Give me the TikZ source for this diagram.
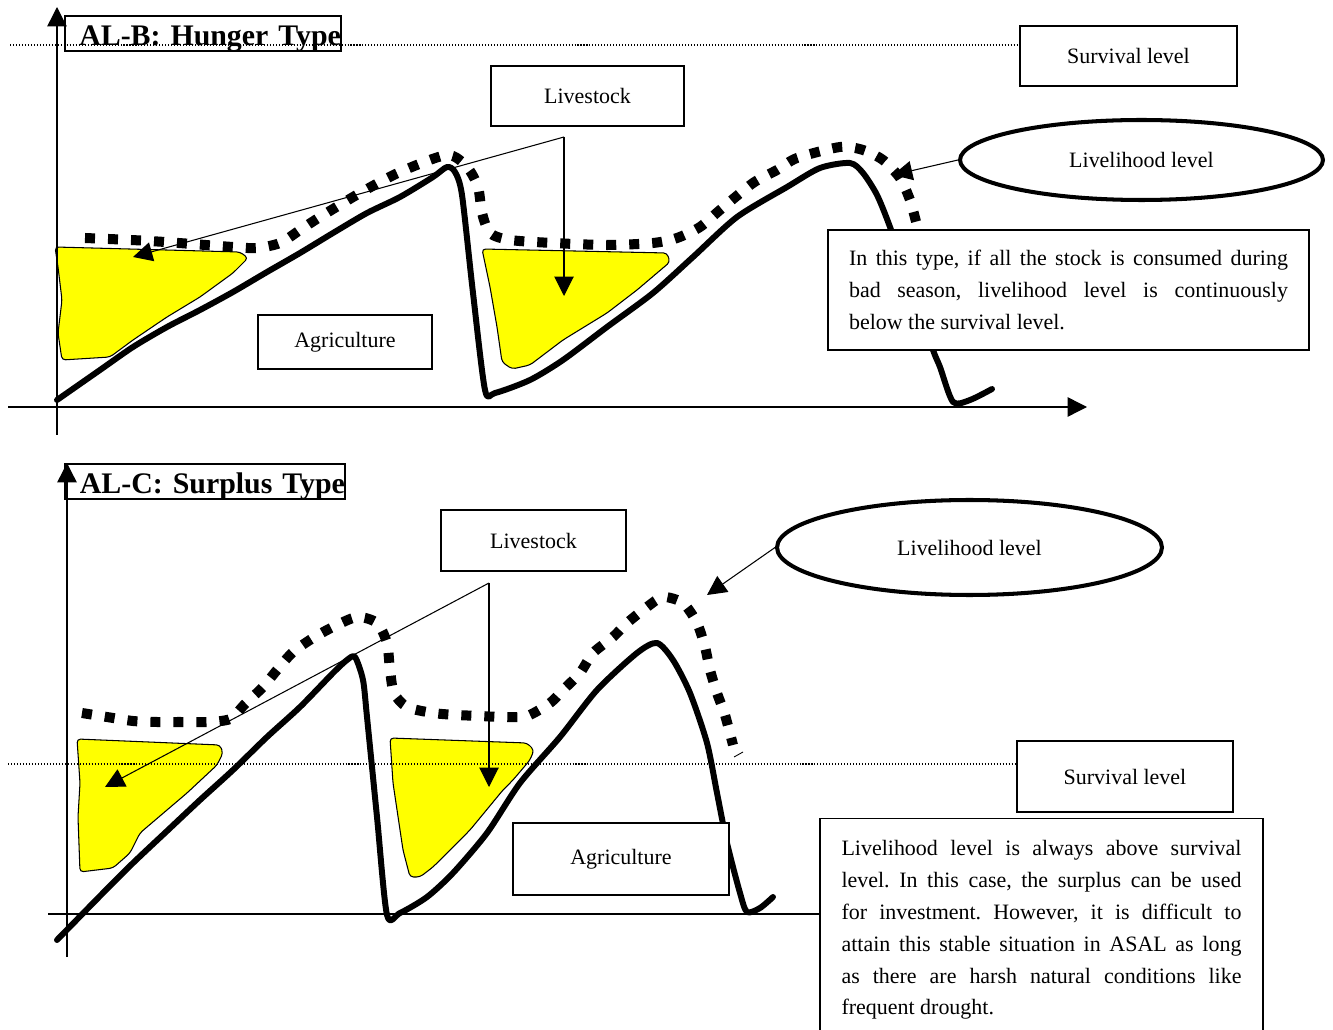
\documentclass[tikz,border=0pt]{standalone}
\usepackage{fontspec}
\setmainfont{Liberation Serif}
\usepackage{tikz}
\usetikzlibrary{arrows.meta,shapes.geometric}
\definecolor{cropfill}{RGB}{255,255,0}
\frenchspacing

\begin{document}
\begin{tikzpicture}[
  x=0.02cm, y=-0.02cm,
  font=\fontsize{12.5}{18.1}\selectfont,
  axis/.style={-{Triangle[length=11pt,width=11pt]}, line width=0.8pt},
  conn/.style={-{Triangle[length=11pt,width=11pt]}, line width=0.6pt},
  surv/.style={line width=0.6pt, dash pattern=on 0.6pt off 1.1pt},
  agri/.style={line width=3.4pt, line cap=round, line join=round},
  lvl/.style={line width=5.7pt, dash pattern=on 5.7pt off 7.4pt},
  crop/.style={draw, line width=0.6pt, fill=cropfill, rounded corners=2pt},
  lbox/.style={draw, line width=0.8pt, fill=white, inner sep=0pt},
  ttl/.style={draw, line width=1.1pt, inner sep=0pt, anchor=north west, align=right,
    text height=17pt, text depth=2.8pt, font=\fontsize{17}{19}\selectfont\bfseries},
  oval/.style={ellipse, draw, line width=2.3pt, inner sep=0pt, fill=white},
  note/.style={draw, line width=0.8pt, fill=white, align=justify}
]
\useasboundingbox (0,0) rectangle (1333,1030);

% Top panel: hunger type
\draw[crop] (55,247) -- (240,252) -- (248,258) -- (233,273) -- (200,297) -- (167,317)
  -- (133,340) -- (110,357) -- (62,360) -- (58,333) -- (62,300) -- (58,267) -- cycle;
\draw[crop] (482,249) -- (667,253) -- (670,262) -- (637,290) -- (607,313) -- (563,340)
  -- (530,365) -- (512,369) -- (502,362) -- (497,327) -- (490,287) -- cycle;
\draw[axis] (57,435) -- (57,7);
\draw[axis] (8,407) -- (1087,407);
\draw[agri] plot[smooth, tension=0.45] coordinates {(57,400) (100,370) (133,347) (167,327)
  (200,310) (233,292) (267,272) (300,253) (333,233) (367,213) (400,197) (433,177) (447,167)
  (455,172) (462,195) (473,293) (485,390) (495,393) (530,380) (563,360) (607,327) (653,293)
  (693,257) (737,217) (787,187) (820,168) (850,163) (863,173) (877,195) (890,227) (912,290)
  (933,350) (940,367) (953,402) (970,400) (992,389)};
\draw[lvl] plot[smooth, tension=0.45] coordinates {(85,238) (150,241) (233,247) (257,248)
  (280,243) (300,230) (320,217) (360,193) (400,172) (447,155) (467,167) (478,187) (482,213)
  (490,233) (510,240) (553,243) (607,245) (653,243) (677,238) (700,227) (720,210) (753,183)
  (777,170) (797,158) (840,147) (863,150) (883,160) (900,178) (910,200) (917,225) (925,250)};

\node[ttl, text width=5.52cm] (ttlB) at (64,15) {AL-B: Hunger Type};
\node[lbox, minimum width=4.34cm, minimum height=1.2cm] (survB) at (1128.5,56) {Survival level};
\draw[surv] (10,45) -- (10,45 -| survB.west);
\node[lbox, minimum width=3.86cm, minimum height=1.2cm] (lsB) at (587.5,96) {Livestock};
\node[lbox, minimum width=3.48cm, minimum height=1.08cm] (agB) at (345,342) {Agriculture};
\node[oval, minimum width=7.26cm, minimum height=1.6cm] (ellB) at (1141.5,160) {Livelihood level};
\node[note, text width=8.78cm, minimum width=9.62cm, minimum height=2.4cm] (txtB) at (1068.5,290)
  {In this type, if all the stock is consumed during\linebreak bad season, livelihood level is continuously\linebreak below the survival level.};

\coordinate (lsBc) at (564,137);
\coordinate (lsBa) at (133,257);
\coordinate (lsBb) at (564,296);
\coordinate (ellBtip) at (893,175);
\draw[conn] (lsBc) -- (lsBa);
\draw[conn] (lsBc) -- (lsBb);
\draw[conn] (ellB.west) -- (ellBtip);

% Bottom panel: surplus type
\draw[crop] (77,739) -- (220,745) -- (223,753) -- (217,765) -- (187,793) -- (167,810)
  -- (140,833) -- (130,853) -- (113,868) -- (80,872) -- (78,817) -- (80,783) -- cycle;
\draw[crop] (390,738) -- (527,743) -- (534,750) -- (530,760) -- (513,780) -- (503,790)
  -- (470,830) -- (433,867) -- (420,877) -- (410,877) -- (403,850) -- (393,783) -- cycle;
\draw[axis] (67,957) -- (67,463);
\draw[line width=0.8pt] (48,914) -- (820,914);
\node[lbox, minimum width=4.32cm, minimum height=1.42cm] (survC) at (1125,776.5) {Survival level};
\draw[surv] (8,764) -- (8,764 -| survC.west);
\draw[agri] plot[smooth, tension=0.45] coordinates {(57,940) (100,896) (133,863) (167,831)
  (200,800) (233,770) (267,737) (300,707) (333,673) (347,660) (355,657) (363,680) (367,717)
  (377,817) (387,915) (400,913) (427,897) (453,873) (487,833) (520,783) (560,737) (597,690)
  (637,653) (657,643) (673,660) (690,693) (707,743) (717,793) (727,843) (740,893) (747,912)
  (760,908) (773,897)};
\draw[lvl] plot[smooth, tension=0.45] coordinates {(82,713) (107,717) (133,721) (157,722)
  (180,722) (207,722) (230,719) (245,704) (263,687) (277,670) (293,652) (313,638) (333,627)
  (357,617) (377,623) (387,643) (390,670) (394,693) (407,707) (433,713) (457,715) (480,716)
  (503,717) (527,716) (550,703) (563,690) (580,673) (593,653) (613,637) (627,623) (647,607)
  (663,597) (683,603) (697,623) (705,647) (710,670) (717,693) (725,715) (733,745)};
\draw[line width=0.5pt] (734,757) -- (743,752);

\node[ttl, text width=5.6cm] (ttlC) at (64,463) {AL-C: Surplus Type};
\node[lbox, minimum width=3.7cm, minimum height=1.22cm] (lsC) at (533.5,540.5) {Livestock};
\node[lbox, minimum width=4.32cm, minimum height=1.44cm] (agC) at (621,859) {Agriculture};
\node[oval, minimum width=7.7cm, minimum height=1.9cm] (ellC) at (969.5,547.5) {Livelihood level};
\node[note, text width=8cm, minimum width=8.86cm, inner ysep=12.5pt, anchor=north] (txtC) at (1041.5,818)
  {Livelihood level is always above survival\linebreak level. In this case, the surplus can be used\linebreak for investment. However, it is difficult to\linebreak attain this stable situation in ASAL as long\linebreak as there are harsh natural conditions like\linebreak frequent drought.};

\coordinate (lsCc) at (489,583);
\coordinate (lsCa) at (105,787);
\coordinate (lsCb) at (489,787);
\coordinate (ellCtip) at (707,595);
\draw[conn] (lsCc) -- (lsCa);
\draw[conn] (lsCc) -- (lsCb);
\draw[conn] (ellC.west) -- (ellCtip);
\end{tikzpicture}
\end{document}
